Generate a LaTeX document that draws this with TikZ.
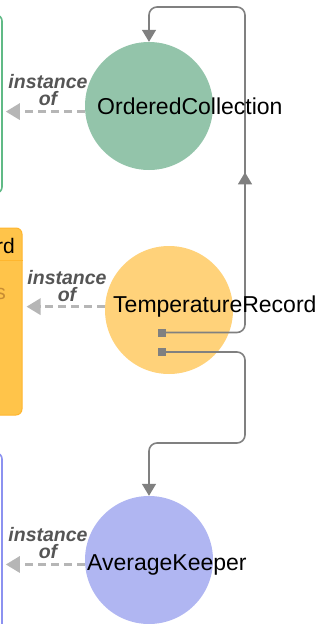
\documentclass[tikz,border=0pt]{standalone}
\usepackage{fontspec}
\setmainfont{Liberation Sans}
\usetikzlibrary{arrows.meta,decorations.markings}

\definecolor{ocgreen}{RGB}{147,196,170}
\definecolor{ocedge}{RGB}{96,186,134}
\definecolor{trorange}{RGB}{255,210,122}
\definecolor{trbox}{RGB}{255,196,74}
\definecolor{trboxedge}{RGB}{255,182,46}
\definecolor{trtext}{RGB}{200,140,50}
\definecolor{akblue}{RGB}{176,182,242}
\definecolor{akedge}{RGB}{140,146,240}
\definecolor{linkgray}{RGB}{128,128,128}
\definecolor{instgray}{RGB}{182,182,182}
\definecolor{labelgray}{RGB}{85,85,85}

\tikzset{
	object/.style={circle, minimum size=128pt, inner sep=0pt, fill=#1},
	objname/.style={anchor=base west, inner sep=0pt, font=\fontsize{23}{27}\selectfont},
	classbox/.style={rectangle, rounded corners=6pt, minimum width=152pt, minimum height=#1, inner sep=0pt, line width=1.6pt},
	port/.style={rectangle, fill=linkgray, minimum size=8pt, inner sep=0pt},
	link/.style={draw=linkgray, line width=1.6pt, rounded corners=8pt, -{Triangle[length=12pt,width=14pt]}},
	midarrow/.style={decoration={markings, mark=at position #1 with {\arrow{Triangle[length=12pt,width=14pt]}}}, postaction={decorate}},
	instof/.style={draw=instgray, line width=3pt, dash pattern=on 8pt off 5pt, -{Triangle[length=14pt,width=16pt]}, shorten >=3pt},
	instlabel/.style={align=center, inner sep=0pt, text=labelgray, font=\fontsize{19.5}{16.5}\selectfont\bfseries\itshape},
}

\begin{document}
\begin{tikzpicture}[x=1pt,y=-1pt]
	\useasboundingbox (0,0) rectangle (320,624);
	\clip (0,0) rectangle (320,624);
	% class boxes, cut by the left edge
	\node[classbox=178pt, draw=ocedge, fill=white] (occlass) at (-74,104) {};
	\node[classbox=187pt, minimum width=172pt, draw=trboxedge, fill=trbox, line width=1pt] (trclass) at (-64,321.5) {};
	\draw[trboxedge, line width=1pt] (trclass.west |- 0,260) -- (trclass.east |- 0,260);
	\node[anchor=base east, inner sep=0pt, font=\fontsize{21}{25}\selectfont] (trclassname) at (15,253) {rd};
	\node[anchor=base east, inner sep=0pt, text=trtext, font=\fontsize{21}{25}\selectfont] (trclassfield) at (6,299) {s};
	\node[classbox=247pt, draw=akedge, fill=white] (akclass) at (-74,576.5) {};
	% objects
	\node[object=ocgreen] (oc) at (149,106) {};
	\node[object=trorange] (tr) at (169,310) {};
	\node[object=akblue] (ak) at (149,560) {};
	\node[port] (trout1) at (161.5,332.5) {};
	\node[port] (trout2) at (161.5,352) {};
	% links
	\draw[link, midarrow=236pt] (trout1.east) -| (245,7) -| (oc.north);
	\draw[link] (trout2.east) -| (245,443) -| (ak.north);
	% instance of
	\draw[instof] (oc.185) -- (oc.185 -| occlass.east);
	\draw[instof, shorten >=4pt] (tr.177) -- (tr.177 -| trclass.east);
	\draw[instof] (ak.184) -- (ak.184 -| akclass.east);
	\node[instlabel] (ocinst) at (48,90) {instance\\of};
	\node[instlabel] (trinst) at (67,286) {instance\\of};
	\node[instlabel] (akinst) at (48,543) {instance\\of};
	% names
	\node[objname] (ocname) at (97,114) {OrderedCollection};
	\node[objname] (trname) at (113,312) {TemperatureRecord};
	\node[objname] (akname) at (87,570) {AverageKeeper};
\end{tikzpicture}
\end{document}
